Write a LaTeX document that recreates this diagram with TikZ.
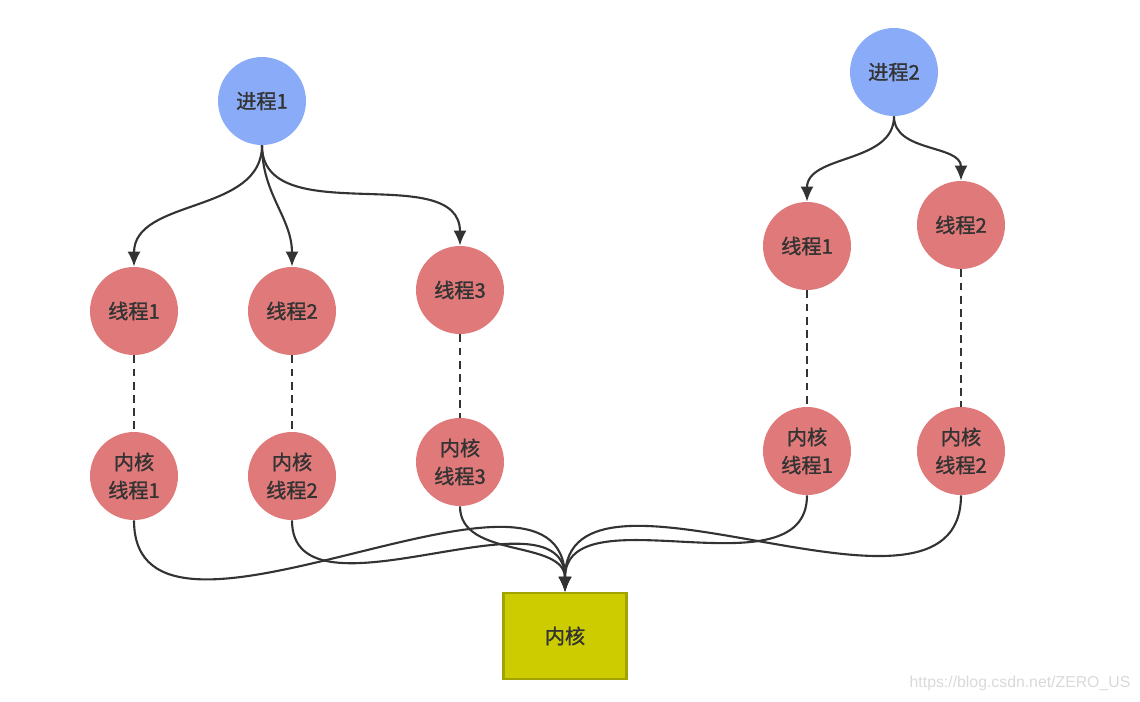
\documentclass[tikz,border=0pt]{standalone}
\usepackage{fontspec}
\setmainfont{Noto Sans CJK SC}[BoldFont={Noto Sans CJK SC}, BoldFeatures={FakeBold=1.2}]
\newfontfamily\markfont{Liberation Sans}
\usetikzlibrary{arrows.meta}

\definecolor{procblue}{HTML}{8AACF8}
\definecolor{threadred}{HTML}{E07979}
\definecolor{kernfill}{HTML}{CCCC00}
\definecolor{kerndraw}{HTML}{A3A300}
\definecolor{inkgray}{HTML}{333333}

\tikzset{
  proc/.style={shape=circle, fill=procblue, minimum size=1.76cm, inner sep=0pt, text=inkgray, font=\fontsize{11.5}{16}\selectfont\bfseries},
  thrd/.style={shape=circle, fill=threadred, minimum size=1.76cm, inner sep=0pt, align=center, text=inkgray, font=\fontsize{11.5}{16}\selectfont\bfseries},
  link/.style={-{Latex[length=3mm, width=2.6mm]}, line width=1.2pt, draw=inkgray},
  pair/.style={line width=1.2pt, draw=inkgray, dash pattern=on 4.5pt off 3pt},
}

\begin{document}
\begin{tikzpicture}[x=0.02cm, y=-0.02cm]
\useasboundingbox (0,0) rectangle (1140,701);
%%% processes
\node[proc] (p1) at (262,101) {进程1};
\node[proc] (p2) at (894,72) {进程2};
%%% user threads
\node[thrd] (t1) at (134,311) {线程1};
\node[thrd] (t2) at (292,311) {线程2};
\node[thrd] (t3) at (460,290) {线程3};
\node[thrd] (t4) at (807,246) {线程1};
\node[thrd] (t5) at (961,225) {线程2};
%%% kernel threads
\node[thrd] (k1) at (134,476) {内核\\线程1};
\node[thrd] (k2) at (292,476) {内核\\线程2};
\node[thrd] (k3) at (460,462) {内核\\线程3};
\node[thrd] (k4) at (807,451) {内核\\线程1};
\node[thrd] (k5) at (961,451) {内核\\线程2};
%%% kernel
\node[shape=rectangle, fill=kernfill, draw=kerndraw, line width=1.2pt, minimum width=2.46cm, minimum height=1.72cm, text=inkgray, font=\fontsize{11.5}{16}\selectfont\bfseries] (kern) at (565,636) {内核};

\draw[link] (p1.south) to[out=-90,in=90] (t1.north);
\draw[link] (p1.south) to[out=-90,in=90] (t2.north);
\draw[link] (p1.south) to[out=-90,in=90] (t3.north);
\draw[link] (p2.south) to[out=-90,in=90] (t4.north);
\draw[link] (p2.south) to[out=-90,in=90] (t5.north);

\draw[pair] (t1.south)--(k1.north);
\draw[pair] (t2.south)--(k2.north);
\draw[pair] (t3.south)--(k3.north);
\draw[pair] (t4.south)--(k4.north);
\draw[pair] (t5.south)--(k5.north);

\draw[link] (k1.south) to[out=-90,in=90] (kern.north);
\draw[link] (k2.south) to[out=-90,in=90] (kern.north);
\draw[link] (k3.south) to[out=-90,in=90] (kern.north);
\draw[link] (k4.south) to[out=-90,in=90] (kern.north);
\draw[link] (k5.south) to[out=-90,in=90] (kern.north);

\node[text=black!15, font=\markfont\fontsize{9}{10}\selectfont] (mark) at (1020,683) {https://blog.csdn.net/ZERO\_US};
\end{tikzpicture}
\end{document}
